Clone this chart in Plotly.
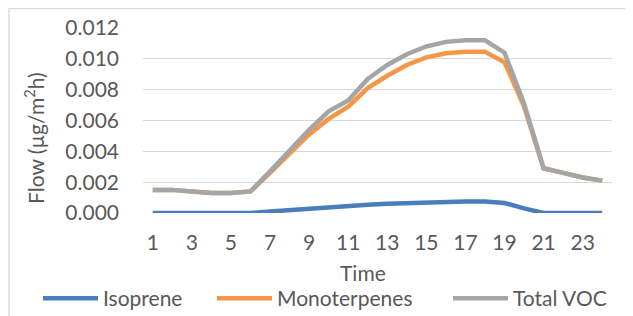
import plotly.graph_objects as go

hours = list(range(1, 25))
x_tick_labels = [str(h) for h in range(1, 25, 2)]

isoprene = [0, 0, 0, 0, 0, 0, 0.0001, 0.0002, 0.0003, 0.00038, 0.00045, 0.00053,
            0.0006, 0.00065, 0.0007, 0.00073, 0.00075, 0.00075, 0.00065, 0.0003,
            0, 0, 0, 0]
monoterpenes = [0.0015, 0.0015, 0.0014, 0.0013, 0.0013, 0.0014, 0.0026, 0.0039,
                0.0051, 0.0061, 0.0069, 0.0081, 0.0089, 0.0096, 0.0101, 0.01036,
                0.01046, 0.01046, 0.00977, 0.0069, 0.0029, 0.0026, 0.0023, 0.0021]
total_voc = [0.0015, 0.0015, 0.0014, 0.0013, 0.0013, 0.0014, 0.0027, 0.0041,
             0.0054, 0.0066, 0.0073, 0.0087, 0.0096, 0.0103, 0.0108, 0.0111,
             0.0112, 0.0112, 0.0104, 0.0071, 0.0029, 0.0026, 0.0023, 0.0021]

FONT = "Lato"
TXT = "#595959"

# The page body has an 8px default margin, so the figure is drawn 8px
# right/down of the window origin; all layout pixels below are figure pixels.
OFF = 8
W, H = 633 - OFF, 316 - OFF
L, R, T, B = 143 - OFF, 612 - OFF, 28 - OFF, 213 - OFF


def px_x(px):
    return (px - OFF - L) / (R - L)


def px_y(py):
    return (B - (py - OFF)) / (B - T)


def cx(px):
    return (px - OFF) / W


def cy(py):
    return 1 - (py - OFF) / H


fig = go.Figure()
fig.add_trace(go.Scatter(x=hours, y=isoprene, mode="lines", name="Isoprene",
                         line=dict(color="#4A7EBB", width=4.5), legend="legend"))
fig.add_trace(go.Scatter(x=hours, y=monoterpenes, mode="lines", name="Monoterpenes",
                         line=dict(color="#F79646", width=4.5), legend="legend2"))
fig.add_trace(go.Scatter(x=hours, y=total_voc, mode="lines", name="Total VOC",
                         line=dict(color="#A5A5A5", width=4.5), legend="legend3"))

leg_common = dict(orientation="h", xanchor="left", yanchor="middle",
                  xref="container", yref="container",
                  font=dict(family=FONT, size=21, color=TXT),
                  itemwidth=55, bgcolor="rgba(0,0,0,0)", borderwidth=0)

fig.update_layout(
    width=W, height=H,
    margin=dict(l=L, r=W - R, t=T, b=H - B, autoexpand=False),
    paper_bgcolor="white", plot_bgcolor="white",
    font=dict(family=FONT, size=21, color=TXT),
    showlegend=True,
    legend=dict(x=cx(38), y=cy(298.5), **leg_common),
    legend2=dict(x=cx(212), y=cy(298.5), **leg_common),
    legend3=dict(x=cx(448), y=cy(298.5), **leg_common),
    xaxis=dict(range=[0.5, 24.5], tickmode="array",
               tickvals=list(range(1, 25, 2)), ticktext=x_tick_labels,
               showgrid=False, zeroline=False, showline=False, ticks="",
               automargin=False, ticklabelstandoff=15,
               tickfont=dict(family=FONT, size=21, color=TXT)),
    yaxis=dict(range=[0, 0.012], dtick=0.002, tickformat=".3f",
               showgrid=True, gridcolor="#D9D9D9", gridwidth=1.3,
               zeroline=False, showline=False, ticks="", automargin=False,
               ticklabelstandoff=23,
               tickfont=dict(family=FONT, size=21, color=TXT)),
    shapes=[dict(type="rect", xref="paper", yref="paper",
                 x0=px_x(9), x1=px_x(650), y0=px_y(340), y1=px_y(8.6),
                 line=dict(color="#D9D9D9", width=1.3), fillcolor="rgba(0,0,0,0)",
                 layer="below")],
    annotations=[
        dict(text="Flow (µg/m<sup>2</sup>h)", textangle=-90, xref="paper", yref="paper",
             x=px_x(34), y=px_y(138), xanchor="center", yanchor="middle",
             showarrow=False, font=dict(family=FONT, size=21, color=TXT)),
        dict(text="Time", xref="paper", yref="paper",
             x=px_x(362.5), y=px_y(272.5), xanchor="center", yanchor="middle",
             showarrow=False, font=dict(family=FONT, size=21, color=TXT)),
    ],
)

fig.write_html("out.html")
